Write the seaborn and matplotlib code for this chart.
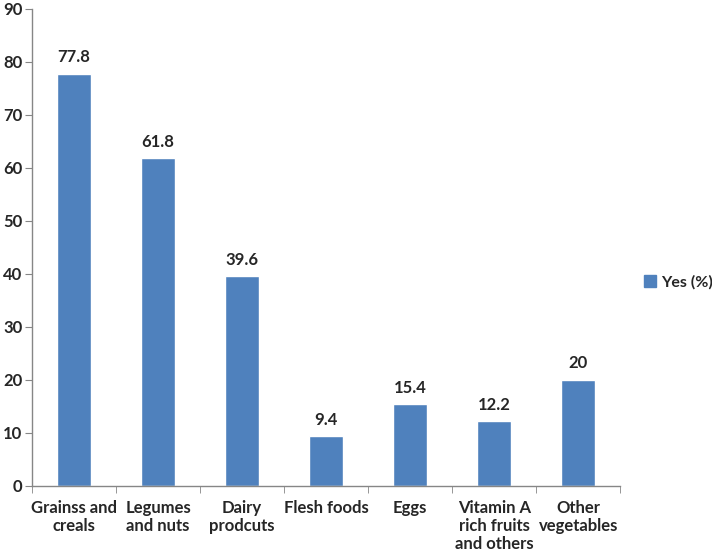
import pandas as pd
import matplotlib.pyplot as plt
import matplotlib.patches as mpatches
import seaborn as sns

# Data
categories = ['Grainss and\ncreals', 'Legumes\nand nuts', 'Dairy\nprodcuts', 'Flesh foods',
              'Eggs', 'Vitamin A\nrich fruits\nand others', 'Other\nvegetables']
values = [77.8, 61.8, 39.6, 9.4, 15.4, 12.2, 20]
value_labels = ['77.8', '61.8', '39.6', '9.4', '15.4', '12.2', '20']
series_name = 'Yes (%)'

sns.set_style('white')
plt.rcParams['font.family'] = ['Lato', 'DejaVu Sans']
plt.rcParams['font.weight'] = 'bold'

df = pd.DataFrame({'food': categories, 'pct': values})

fig = plt.figure(figsize=(7.12, 5.54), dpi=100)
ax = fig.add_axes([0.045, 0.123, 0.826, 0.861])

bar_color = '#4F81BD'
sns.barplot(data=df, x='food', y='pct', color=bar_color, width=0.41, ax=ax, saturation=1)

for i, (v, lab) in enumerate(zip(values, value_labels)):
    ax.text(i, v + 1.6, lab, ha='center', va='bottom', fontsize=12, fontweight='bold')

ax.set_xlim(-0.5, len(categories) - 0.5)
ax.set_ylim(0, 90)
ax.set_yticks(range(0, 91, 10))
ax.set_xticks([i - 0.5 for i in range(len(categories) + 1)], minor=True)
ax.tick_params(axis='x', which='major', length=0, labelsize=12, pad=10)
ax.tick_params(axis='x', which='minor', length=5, color='#868686', direction='out')
ax.tick_params(axis='y', length=5, color='#868686', direction='out', labelsize=12, pad=2)
ax.yaxis.set_ticks_position('left')
ax.xaxis.set_ticks_position('bottom')
for lab in ax.get_xticklabels():
    lab.set_fontweight('bold')
    lab.set_linespacing(1.15)
for lab in ax.get_yticklabels():
    lab.set_fontweight('bold')

ax.set_xlabel('')
ax.set_ylabel('')
for s in ['top', 'right']:
    ax.spines[s].set_visible(False)
for s in ['left', 'bottom']:
    ax.spines[s].set_color('#868686')
    ax.spines[s].set_linewidth(1)

handle = mpatches.Patch(color=bar_color, label=series_name)
fig.legend(handles=[handle], loc='center left', bbox_to_anchor=(0.905, 0.491), frameon=False,
           prop={'size': 11.5, 'weight': 'bold'}, handlelength=0.75, handleheight=0.75,
           handletextpad=0.3, borderpad=0, borderaxespad=0)

fig.savefig('out.png', dpi=100)
